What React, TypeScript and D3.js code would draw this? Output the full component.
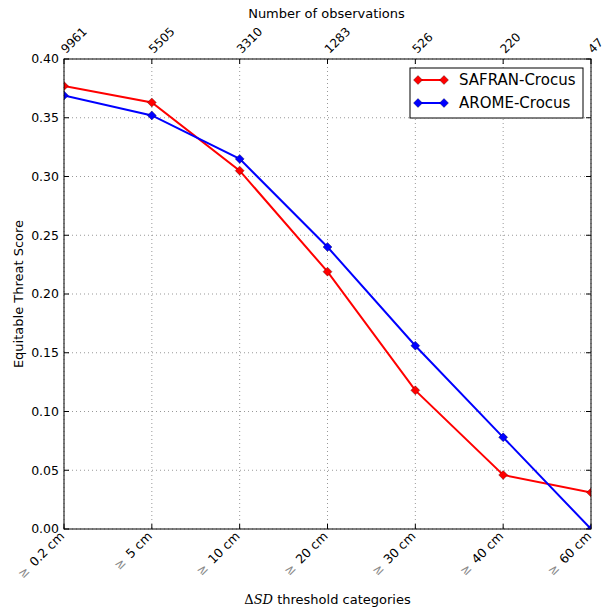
import React from "react";
import * as d3 from "d3";

const categories = ["0.2 cm", "5 cm", "10 cm", "20 cm", "30 cm", "40 cm", "60 cm"];
const observations = ["9961", "5505", "3310", "1283", "526", "220", "47"];
const safran = [0.377, 0.363, 0.305, 0.219, 0.118, 0.046, 0.031];
const arome = [0.369, 0.352, 0.315, 0.240, 0.156, 0.078, 0.0];
const yTicks = [0, 0.05, 0.1, 0.15, 0.2, 0.25, 0.3, 0.35, 0.4];
const seriesNames = ["SAFRAN-Crocus", "AROME-Crocus"];
const seriesColors = ["#ff0000", "#0000ff"];

const W = 605, H = 612;
const L = 64, R = 591, T = 59, B = 529;
const FONT = "DejaVu Sans, sans-serif";

export default function App() {
  const x = d3.scalePoint<number>().domain(d3.range(categories.length)).range([L, R]);
  const y = d3.scaleLinear().domain([0, 0.4]).range([B, T]);
  const line = d3.line<number>().x((_, i) => x(i)!).y((d) => y(d));
  const diamond = (cx: number, cy: number, r = 4.5) =>
    `M${cx},${cy - r}L${cx + r},${cy}L${cx},${cy + r}L${cx - r},${cy}Z`;
  const series = [safran, arome];

  return (
    <svg width={W} height={H} style={{ position: "absolute", left: 0, top: 0, fontFamily: FONT }}>
      <defs>
        <clipPath id="plotclip">
          <rect x={L} y={T} width={R - L} height={B - T} />
        </clipPath>
      </defs>
      <rect x={0} y={0} width={W} height={H} fill="white" />
      {/* grid */}
      {categories.map((_, i) => (
        <line key={"gx" + i} x1={x(i)} x2={x(i)} y1={T} y2={B} stroke="#999" strokeDasharray="1,3" strokeWidth={1} />
      ))}
      {yTicks.map((t) => (
        <line key={"gy" + t} x1={L} x2={R} y1={y(t)} y2={y(t)} stroke="#999" strokeDasharray="1,3" strokeWidth={1} />
      ))}
      {/* ticks */}
      {categories.map((_, i) => (
        <g key={"tk" + i}>
          <line x1={x(i)} x2={x(i)} y1={B} y2={B - 5} stroke="#000" />
          <line x1={x(i)} x2={x(i)} y1={T} y2={T + 5} stroke="#000" />
        </g>
      ))}
      {yTicks.map((t) => (
        <g key={"yt" + t}>
          <line x1={L} x2={L + 5} y1={y(t)} y2={y(t)} stroke="#000" />
          <line x1={R} x2={R - 5} y1={y(t)} y2={y(t)} stroke="#000" />
          <text x={L - 5} y={y(t)} dy="0.35em" textAnchor="end" fontSize={12.5}>
            {t.toFixed(2)}
          </text>
        </g>
      ))}
      {/* series */}
      <g clipPath="url(#plotclip)">
        {series.map((s, k) => (
          <g key={"s" + k}>
            <path d={line(s)!} fill="none" stroke={seriesColors[k]} strokeWidth={2} />
            {s.map((v, i) => (
              <path key={i} d={diamond(x(i)!, y(v))} fill={seriesColors[k]} stroke="#000" strokeOpacity={0.5} strokeWidth={0.6} />
            ))}
          </g>
        ))}
      </g>
      {/* frame */}
      <rect x={L} y={T} width={R - L} height={B - T} fill="none" stroke="#000" strokeWidth={1} />
      {/* top labels */}
      {observations.map((o, i) => (
        <text key={"ob" + i} transform={`translate(${x(i)! + 2},${T - 5}) rotate(-45)`} fontSize={12}>
          {o}
        </text>
      ))}
      <text x={(L + R) / 2 - 1} y={18} textAnchor="middle" fontSize={13}>Number of observations</text>
      {/* bottom labels */}
      {categories.map((c, i) => (
        <text key={"cl" + i} transform={`translate(${x(i)! + 1},${B + 8}) rotate(-45)`} textAnchor="end" fontSize={12.5}>
          <tspan fill="#888">≥</tspan>
          <tspan dx={6}>{c}</tspan>
        </text>
      ))}
      <text x={(L + R) / 2} y={604} textAnchor="middle" fontSize={13}>
        <tspan fontFamily="DejaVu Serif, serif">Δ</tspan>
        <tspan fontFamily="DejaVu Serif, serif" fontStyle="italic">SD</tspan>
        <tspan> threshold categories</tspan>
      </text>
      <text transform={`translate(23,${(T + B) / 2}) rotate(-90)`} textAnchor="middle" fontSize={13}>
        Equitable Threat Score
      </text>
      {/* legend */}
      <rect x={410} y={68} width={173} height={50} fill="white" stroke="#000" strokeWidth={1} />
      {seriesNames.map((n, k) => {
        const ly = 80 + k * 23;
        return (
          <g key={"lg" + k}>
            <line x1={418} x2={444} y1={ly} y2={ly} stroke={seriesColors[k]} strokeWidth={2} />
            <path d={diamond(418, ly)} fill={seriesColors[k]} stroke="#000" strokeOpacity={0.5} strokeWidth={0.6} />
            <path d={diamond(444, ly)} fill={seriesColors[k]} stroke="#000" strokeOpacity={0.5} strokeWidth={0.6} />
            <text x={459} y={ly} dy="0.35em" fontSize={15}>{n}</text>
          </g>
        );
      })}
    </svg>
  );
}
